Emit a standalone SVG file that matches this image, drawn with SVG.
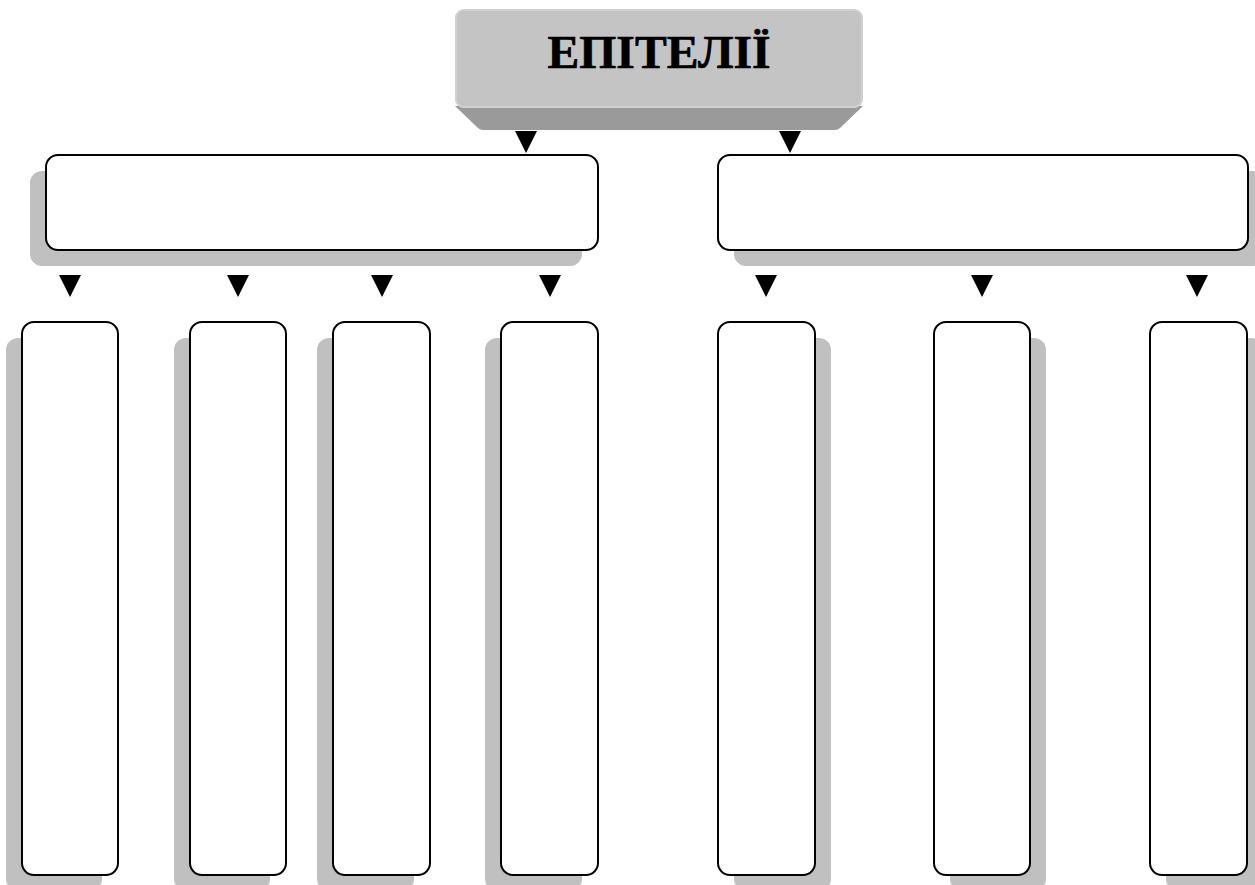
<svg xmlns="http://www.w3.org/2000/svg" width="1255" height="885" viewBox="0 0 1255 885">
<defs>
<style>
.shadow{fill:#c0c0c0;}
.box{fill:#ffffff;stroke:#000000;stroke-width:2;}
.arrow{fill:#000000;}
.title{font-family:"Liberation Serif",serif;font-weight:bold;font-size:46px;fill:#000000;stroke:#000000;stroke-width:0.6;}
</style>
</defs>
<rect width="1255" height="885" fill="#ffffff"/>
<g id="title-node">
<path d="M455,106 L863,106 L840,128 Q838,130 835,130 L483,130 Q480,130 478,128 Z" fill="#9a9a9a"/>
<rect x="455" y="9" width="408" height="99" rx="9" fill="#c4c4c4"/>
<rect x="456" y="10" width="406" height="97" rx="8" fill="none" stroke="#d4d4d4" stroke-width="1.5"/>
<text class="title" x="659" y="68" text-anchor="middle" textLength="223" lengthAdjust="spacingAndGlyphs">ЕПІТЕЛІЇ</text>
</g>
<g id="connectors">
<path class="arrow" d="M515,131 L537,131 L526,153 Z"/>
<path class="arrow" d="M779,131 L801,131 L790,153 Z"/>
<path class="arrow" d="M59,275 L81,275 L70,297 Z"/>
<path class="arrow" d="M227,275 L249,275 L238,297 Z"/>
<path class="arrow" d="M371,275 L393,275 L382,297 Z"/>
<path class="arrow" d="M539,275 L561,275 L550,297 Z"/>
<path class="arrow" d="M755,275 L777,275 L766,297 Z"/>
<path class="arrow" d="M971,275 L993,275 L982,297 Z"/>
<path class="arrow" d="M1186,275 L1208,275 L1197,297 Z"/>
</g>
<g id="left-group">
<rect class="shadow" x="30" y="171" width="552" height="95" rx="12"/>
<rect class="box" x="46" y="155" width="552" height="95" rx="12"/>
</g>
<g id="right-group">
<rect class="shadow" x="734" y="171" width="530" height="95" rx="12"/>
<rect class="box" x="718" y="155" width="530" height="95" rx="12"/>
</g>
<g id="left-1">
<rect class="shadow" x="6" y="338" width="96" height="553" rx="12"/>
<rect class="box" x="22" y="322" width="96" height="553" rx="12"/>
</g>
<g id="left-2">
<rect class="shadow" x="174" y="338" width="96" height="553" rx="12"/>
<rect class="box" x="190" y="322" width="96" height="553" rx="12"/>
</g>
<g id="left-3">
<rect class="shadow" x="317" y="338" width="97" height="553" rx="12"/>
<rect class="box" x="333" y="322" width="97" height="553" rx="12"/>
</g>
<g id="left-4">
<rect class="shadow" x="485" y="338" width="97" height="553" rx="12"/>
<rect class="box" x="501" y="322" width="97" height="553" rx="12"/>
</g>
<g id="right-1">
<rect class="shadow" x="734" y="338" width="97" height="553" rx="12"/>
<rect class="box" x="718" y="322" width="97" height="553" rx="12"/>
</g>
<g id="right-2">
<rect class="shadow" x="950" y="338" width="96" height="553" rx="12"/>
<rect class="box" x="934" y="322" width="96" height="553" rx="12"/>
</g>
<g id="right-3">
<rect class="shadow" x="1166" y="338" width="97" height="553" rx="12"/>
<rect class="box" x="1150" y="322" width="97" height="553" rx="12"/>
</g>
</svg>
